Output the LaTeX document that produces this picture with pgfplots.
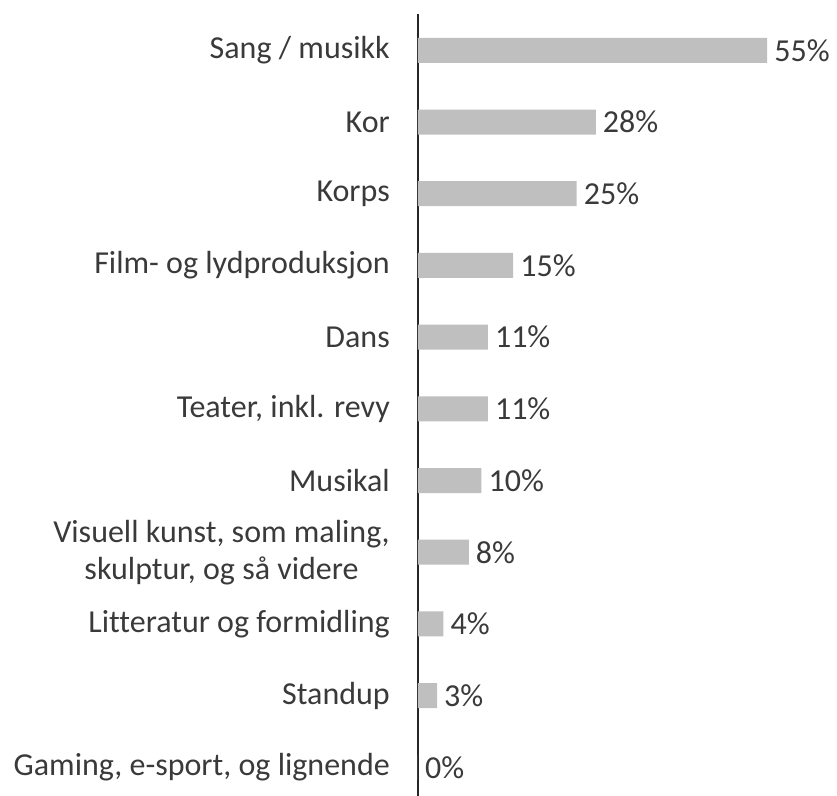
\documentclass[border=0pt]{standalone}
\usepackage{pgfplots}
\pgfplotsset{compat=1.18}
\usepackage{fontspec}
\setmainfont{Carlito}[Ligatures={NoCommon}]
\definecolor{barc}{HTML}{BFBFBF}
\definecolor{txt}{HTML}{3A3A3A}
\begin{document}
\begin{tikzpicture}
\begin{axis}[
  xbar,
  scale only axis,
  width=381bp, height=781.5bp,
  xmin=0, xmax=60,
  ymin=-0.4, ymax=10.5,
  enlargelimits=false,
  axis x line=none,
  axis y line*=left,
  y axis line style={draw=black!85, line width=1.2bp},
  ytick={0,...,10},
  major tick length=0pt,
  ytick style={draw=none},
  yticklabels={{Gaming, e-sport, og lignende},Standup,{Litteratur og formidling},{Visuell kunst, som maling,\\skulptur, og så videre},Musikal,{Teater, inkl. revy},Dans,{Film- og lydproduksjon},Korps,Kor,{Sang / musikk}},
  yticklabel style={align=center, font=\fontsize{32bp}{37bp}\selectfont, text=txt, inner sep=0pt, xshift=-28bp},
  bar width=25bp,
  point meta=x,
  /pgf/number format/assume math mode=true,
  nodes near coords={\pgfmathprintnumber{\pgfplotspointmeta}\%},
  every node near coord/.append style={font=\fontsize{32bp}{37bp}\selectfont, text=txt, anchor=west, inner sep=0pt, xshift=7bp},
]
\addplot[fill=barc, draw=none] coordinates {
  (0,0) (3,1) (4,2) (8,3) (10,4) (11,5) (11,6) (15,7) (25,8) (28,9) (55,10)
};
\coordinate (o) at (axis cs:0,-0.4);
\end{axis}
\pgfresetboundingbox
\path ([xshift=-418bp]o) rectangle ([xshift=419bp,yshift=796bp]o);
\end{tikzpicture}
\end{document}
